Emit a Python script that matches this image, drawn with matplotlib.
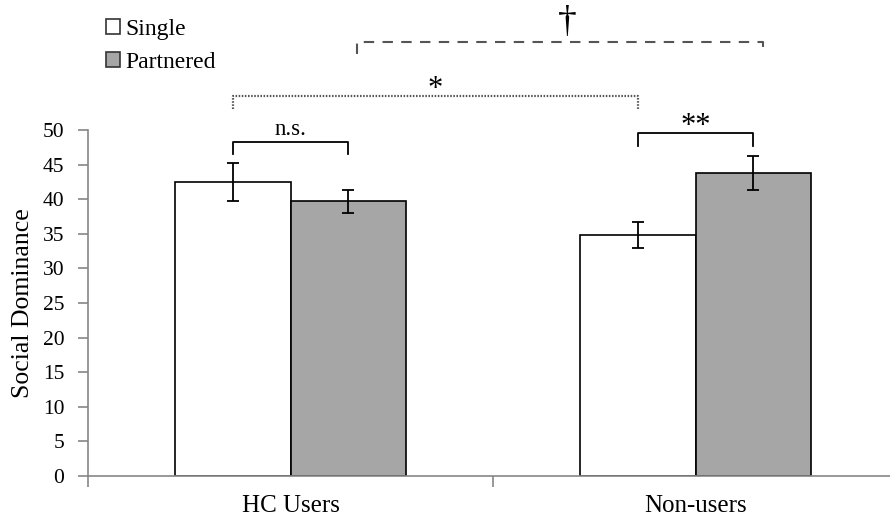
import numpy as np
import matplotlib
matplotlib.use("Agg")
import matplotlib.pyplot as plt
from matplotlib.patches import Patch

plt.rcParams['font.family'] = ['Liberation Serif', 'DejaVu Serif']

groups = ['HC Users', 'Non-users']
series = ['Single', 'Partnered']
single_mean = [42.5, 34.8]
single_se = [2.75, 1.9]
partnered_mean = [39.7, 43.8]
partnered_se = [1.65, 2.45]

# comparison brackets: (x0, x1, y_top, y_drop, label, style)
brackets = [
    (-0.143, 0.143, 48.3, 46.5, 'n.s.', 'solid'),
    (0.857, 1.143, 49.6, 47.7, '**', 'solid'),
    (-0.143, 0.857, 54.9, 53.0, '*', 'dotted'),
    (0.165, 1.166, 62.7, 61.0, '\u2020', 'dashed'),
]

fig = plt.figure(figsize=(8.9, 5.19), dpi=100)
ax = fig.add_axes([88/890, 1-476/519, (898-88)/890, (476-130)/519])

w = 0.2857
x = np.arange(len(groups))
err_kw = dict(ecolor='black', elinewidth=1.3, capsize=4, capthick=1.3)
ax.bar(x - w/2, single_mean, w, yerr=single_se, color='white',
       edgecolor='black', linewidth=1.2, error_kw=err_kw, label='Single')
ax.bar(x + w/2, partnered_mean, w, yerr=partnered_se, color='#a6a6a6',
       edgecolor='black', linewidth=1.2, error_kw=err_kw, label='Partnered')

ax.set_xlim(-0.5, 1.5)
ax.set_ylim(0, 50)
ax.set_yticks(np.arange(0, 51, 5))
ax.set_xticks([-0.5, 0.5, 1.5])
ax.set_xticklabels([])
ax.set_xticks(x, minor=True)
ax.set_xticklabels(groups, minor=True, fontsize=18)
ax.tick_params(axis='x', which='minor', length=0, pad=14)
ax.tick_params(axis='x', which='major', length=8, direction='out', color='#868686', width=1.2)
ax.tick_params(axis='y', length=7, color='#868686', width=1.2, labelsize=15.5, pad=10)
for s in ['top', 'right']:
    ax.spines[s].set_visible(False)
for s in ['left', 'bottom']:
    ax.spines[s].set_color('#868686')
    ax.spines[s].set_linewidth(1.2)
ax.set_ylabel('Social Dominance', fontsize=18.5, labelpad=6)

styles = {
    'solid': dict(color='black', lw=1.3, ls='-'),
    'dotted': dict(color='#555555', lw=1.6, ls=(0, (0.7, 0.7))),
    'dashed': dict(color='#555555', lw=1.5, ls=(0, (5, 4))),
}
for x0, x1, yt, yd, lab, st in brackets:
    ax.plot([x0, x0, x1, x1], [yd, yt, yt, yd], clip_on=False, **styles[st])
    if lab == 'n.s.':
        fs, off, dx = 16.5, 0.2, 0
    elif lab == '\u2020':
        fs, off, dx = 27, 0.3, 0.017
    else:
        fs, off, dx = 22, -1.2, 0
    ax.text((x0 + x1) / 2 + dx, yt + off, lab, ha='center', va='bottom',
            fontsize=fs, clip_on=False)

handles = [Patch(facecolor='white', edgecolor='#333333', linewidth=1.2),
           Patch(facecolor='#a6a6a6', edgecolor='#333333', linewidth=1.2)]
fig.legend(handles, series, loc='upper left', bbox_to_anchor=(106/890, 1-19/519),
           frameon=False, fontsize=17, handlelength=0.6, handleheight=0.6,
           handletextpad=0.2, labelspacing=0.5, borderpad=0, borderaxespad=0)

fig.savefig('out.png', dpi=100)
